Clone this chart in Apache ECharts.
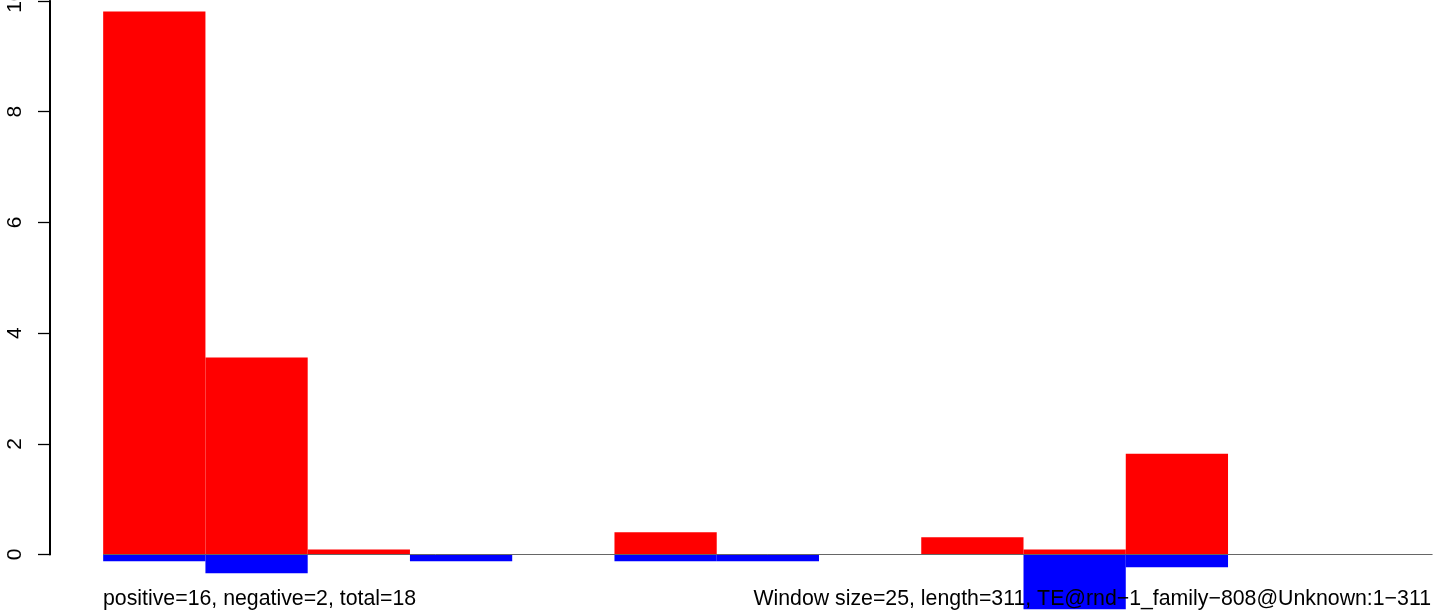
<!DOCTYPE html>
<html>
<head>
<meta charset="utf-8">
<script src="https://cdn.jsdelivr.net/npm/echarts@6/dist/echarts.min.js"></script>
<style>html,body{margin:0;padding:0;background:#fff;}#c{width:1444px;height:615px;}</style>
</head>
<body>
<div id="c"></div>
<script>
const windowSize = 25;
const windowStarts = [0, 25, 50, 75, 100, 125, 150, 175, 200, 225, 250, 275, 300];
const positiveValues = [9.81, 3.56, 0.09, 0, 0, 0.40, 0, 0, 0.31, 0.09, 1.82, 0, 0];
const negativeValues = [-0.12, -0.34, 0, -0.12, 0, -0.12, -0.12, 0, 0, -0.99, -0.23, 0, 0];
const yTicks = [0, 2, 4, 6, 8, 10];
const leftNote = 'positive=16, negative=2, total=18';
const rightNote = 'Window size=25, length=311, TE@rnd\u22121_family\u2212808@Unknown:1\u2212311';

const xMin = -13;
const xEnd = windowStarts[windowStarts.length - 1] + windowSize;
const barData = [];
windowStarts.forEach((s, i) => {
  barData.push([s, s + windowSize, positiveValues[i], 0]);
});
windowStarts.forEach((s, i) => {
  barData.push([s, s + windowSize, negativeValues[i], 1]);
});

const chart = echarts.init(document.getElementById('c'), null, {renderer: 'canvas'});
const FONT = '"Liberation Sans", Arial, Helvetica, sans-serif';
chart.setOption({
  animation: false,
  backgroundColor: '#ffffff',
  grid: {left: 50, right: 0, top: 1, bottom: 60.5, containLabel: false, outerBoundsMode: 'none'},
  xAxis: {
    type: 'value', min: xMin, max: 327.8, show: false
  },
  yAxis: {
    type: 'value', min: 0, max: 10, interval: 2, show: true,
    splitLine: {show: false},
    axisLine: {show: true, onZero: false, lineStyle: {color: '#000', width: 2}},
    axisTick: {show: true, length: 12, lineStyle: {color: '#000', width: 1.3}},
    axisLabel: {
      rotate: 90, margin: 24, fontSize: 21, color: '#000', fontFamily: FONT,
      formatter: v => yTicks.includes(v) ? String(v) : ''
    }
  },
  series: [
    {
      type: 'custom',
      clip: false,
      data: barData,
      renderItem: function (params, api) {
        const x0 = api.value(0), x1 = api.value(1), v = api.value(2), kind = api.value(3);
        if (v === 0) return null;
        const p0 = api.coord([x0, 0]);
        const p1 = api.coord([x1, v]);
        return {
          type: 'rect',
          shape: {
            x: p0[0], y: Math.min(p0[1], p1[1]),
            width: p1[0] - p0[0], height: Math.abs(p1[1] - p0[1])
          },
          style: {fill: kind === 0 ? '#ff0000' : '#0000ff'}
        };
      },
      z: 2
    },
    {
      type: 'line',
      data: [[windowStarts[0], 0], [xEnd, 0]],
      symbol: 'none',
      lineStyle: {color: '#666666', width: 1},
      clip: false,
      z: 3
    },
    {
      type: 'custom',
      clip: false,
      silent: true,
      data: [[xMin, yTicks[yTicks.length - 1]]],
      renderItem: function (params, api) {
        const top = api.coord([api.value(0), api.value(1)]);
        const bottom = api.coord([api.value(0), yTicks[0]]);
        return {
          type: 'rect',
          shape: {x: Math.round(top[0]) - 1, y: top[1] - 0.5, width: 2, height: bottom[1] - top[1] + 1},
          style: {fill: '#000000'},
          z2: 50
        };
      },
      z: 10
    }
  ],
  graphic: [
    {type: 'text', z: 100, left: 103, top: 589, style: {text: leftNote, font: '21.3px ' + FONT, fill: '#000'}},
    {type: 'text', z: 100, right: 13, top: 589, style: {text: rightNote, font: '21.3px ' + FONT, fill: '#000'}}
  ]
});
</script>
</body>
</html>
